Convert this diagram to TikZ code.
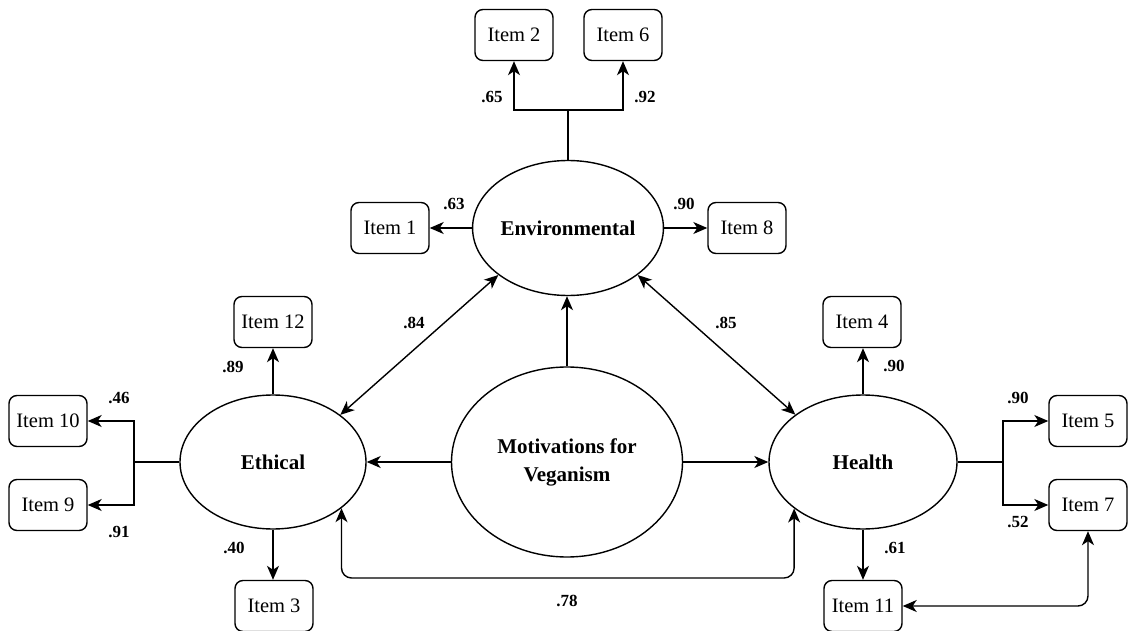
\documentclass[tikz,border=0pt]{standalone}
\usepackage{fontspec}
\setmainfont{Liberation Serif}
\usetikzlibrary{shapes.geometric,arrows.meta,calc}
\begin{document}
\begin{tikzpicture}[x=1pt,y=-1pt,
  line width=1.4pt,
  lat/.style={draw, ellipse, inner sep=0pt, font=\fontsize{21}{28}\selectfont\bfseries, align=center},
  item/.style={draw, rounded corners=8pt, minimum width=78pt, minimum height=51pt, inner sep=0pt, font=\fontsize{20.5}{22}\selectfont},
  coef/.style={font=\fontsize{17}{19}\selectfont\bfseries},
  tip/.style={-{Stealth[length=14pt,width=12pt,inset=4pt]}},
  tips/.style={{Stealth[length=14pt,width=12pt,inset=4pt]}-{Stealth[length=14pt,width=12pt,inset=4pt]}}
]
\useasboundingbox (0,0) rectangle (1128,631);
% latent nodes
\node[lat, minimum width=188pt, minimum height=135pt] (env) at (568,228) {Environmental};
\node[lat, minimum width=231pt, minimum height=190pt] (mot) at (567,462) {Motivations for\\Veganism};
\node[lat, minimum width=186pt, minimum height=134pt] (eth) at (273,462) {Ethical};
\node[lat, minimum width=188pt, minimum height=134pt] (hea) at (863,462) {Health};
% items
\node[item] (i2) at (514,35) {Item 2};
\node[item] (i6) at (623,35) {Item 6};
\node[item] (i1) at (390,228) {Item 1};
\node[item] (i8) at (747,228) {Item 8};
\node[item] (i12) at (273,322) {Item 12};
\node[item] (i4) at (862,322) {Item 4};
\node[item] (i10) at (48,421) {Item 10};
\node[item] (i9) at (48,505) {Item 9};
\node[item] (i5) at (1088,421) {Item 5};
\node[item] (i7) at (1088,505) {Item 7};
\node[item] (i3) at (274,606) {Item 3};
\node[item] (i11) at (863,606) {Item 11};
% junctions
\coordinate (ej) at (568,110);
\coordinate (lj) at (134,462);
\coordinate (rj) at (1003,462);
\coordinate (bl) at (0,578);
% connectors
\draw (env.north) -- (ej);
\draw[tip] (ej) -| (i2.south);
\draw[tip] (ej) -| (i6.south);
\draw[tip] (env.west) -- (i1.east);
\draw[tip] (env.east) -- (i8.west);
\draw[tips] (env.214) -- (eth.35);
\draw[tips] (env.-34) -- (hea.145);
\draw[tip] (mot.north) -- (mot.north |- env.south);
\draw[tip] (mot.west) -- (eth.east);
\draw[tip] (mot.east) -- (hea.west);
\draw[tip] (eth.north) -- (i12.south);
\draw[tip] (hea.north) -- (hea.north |- i4.south);
\draw[tip] (eth.south) -- (eth.south |- i3.north);
\draw[tip] (hea.south) -- (hea.south |- i11.north);
\draw (eth.west) -- (lj);
\draw[tip] (lj) |- (i10.east);
\draw[tip] (lj) |- (i9.east);
\draw (hea.east) -- (rj);
\draw[tip] (rj) |- (i5.west);
\draw[tip] (rj) |- (i7.west);
\draw[tips, rounded corners=10pt] (eth.-34) -- (eth.-34 |- bl) -- (hea.214 |- bl) -- (hea.214);
\draw[tips, rounded corners=10pt] (i11.east) -| (i7.south);
% coefficients
\node[coef] (c65) at (492,97) {.65};
\node[coef] (c92) at (645,97) {.92};
\node[coef] (c63) at (454,204) {.63};
\node[coef] (c90a) at (684,204) {.90};
\node[coef] (c84) at (414,323) {.84};
\node[coef] (c85) at (726,323) {.85};
\node[coef] (c89) at (233,367) {.89};
\node[coef] (c90b) at (894,366) {.90};
\node[coef] (c46) at (119,398) {.46};
\node[coef] (c91) at (119,532) {.91};
\node[coef] (c90c) at (1018,398) {.90};
\node[coef] (c52) at (1018,522) {.52};
\node[coef] (c40) at (234,548) {.40};
\node[coef] (c61) at (895,548) {.61};
\node[coef] (c78) at (567,601) {.78};
\end{tikzpicture}
\end{document}
